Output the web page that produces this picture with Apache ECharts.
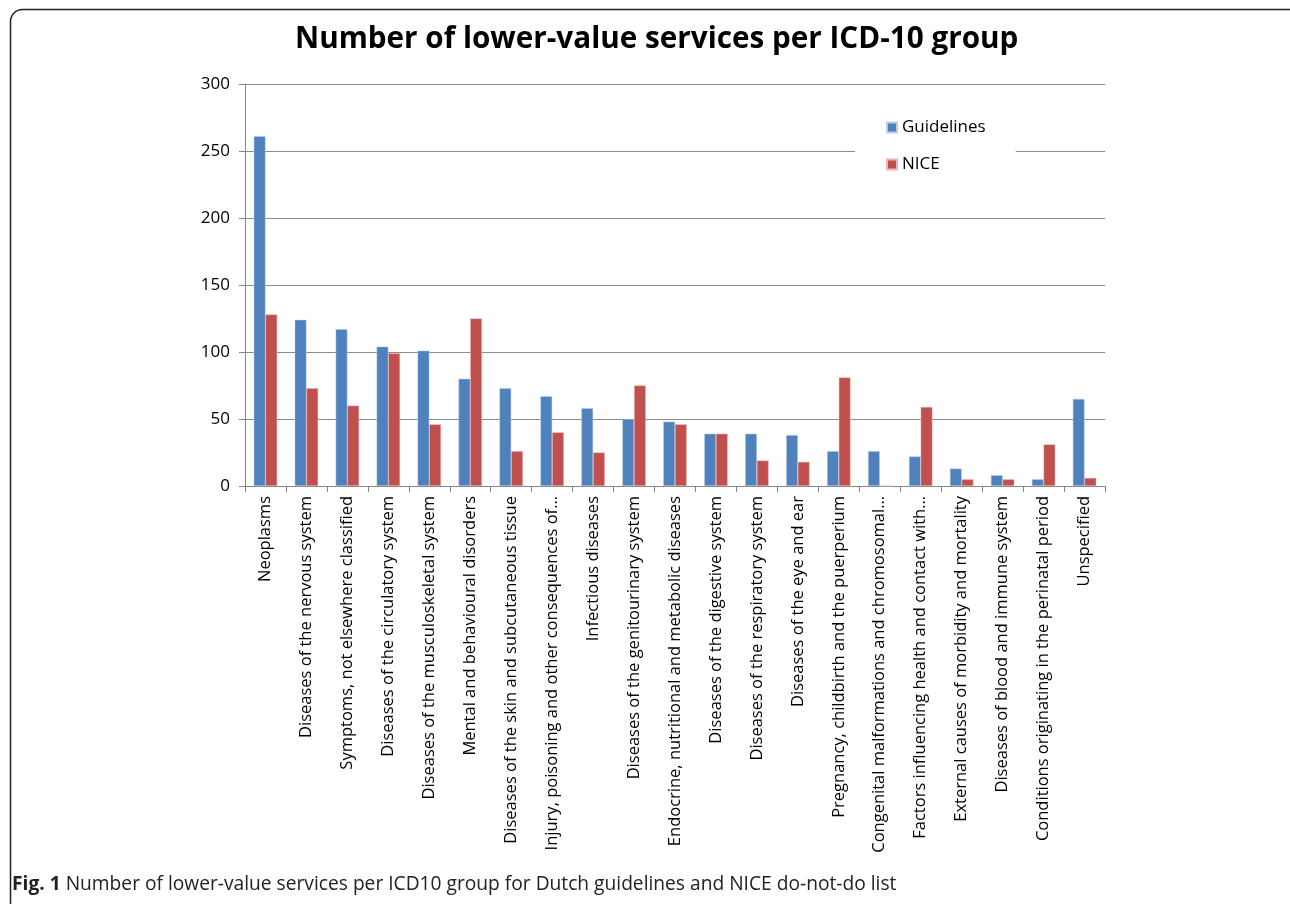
<!DOCTYPE html>
<html>
<head>
<meta charset="utf-8">
<script src="https://cdn.jsdelivr.net/npm/echarts@6/dist/echarts.min.js"></script>
<style>
html,body{margin:0;padding:0;background:#fff;}
#chart{width:1290px;height:904px;}
</style>
</head>
<body>
<div id="chart"></div>
<script>
const categories = [
  "Neoplasms",
  "Diseases of the nervous system",
  "Symptoms, not elsewhere classified",
  "Diseases of the circulatory system",
  "Diseases of the musculoskeletal system",
  "Mental and behavioural disorders",
  "Diseases of the skin and subcutaneous tissue",
  "Injury, poisoning and other consequences of\u2026",
  "Infectious diseases",
  "Diseases of the genitourinary system",
  "Endocrine, nutritional and metabolic diseases",
  "Diseases of the digestive system",
  "Diseases of the respiratory system",
  "Diseases of the eye and ear",
  "Pregnancy, childbirth and the puerperium",
  "Congenital malformations and chromosomal\u2026",
  "Factors influencing health and contact with\u2026",
  "External causes of morbidity and mortality",
  "Diseases of blood and immune system",
  "Conditions originating in the perinatal period",
  "Unspecified"
];
const guidelines = [261,124,117,104,101,80,73,67,58,50,48,39,39,38,26,26,22,13,8,5,65];
const nice = [128,73,60,99,46,125,26,40,25,75,46,39,19,18,81,0,59,5,5,31,6];
const yTicks = [0,50,100,150,200,250,300];

const chart = echarts.init(document.getElementById('chart'));
chart.setOption({
  animation:false,
  backgroundColor:'#fff',
  title:{
    text:'Number of lower-value services per ICD-10 group',
    left:290, top:20,
    textStyle:{fontFamily:'Open Sans', fontWeight:'bold', fontSize:29.7, color:'#000'}
  },
  legend:{
    orient:'vertical', left:855, top:115,
    itemWidth:10, itemHeight:10, itemGap:20,
    backgroundColor:'#fff', padding:[4,30,4,31],
    textStyle:{fontFamily:'Open Sans', fontSize:17, color:'#000'},
    icon:'rect',
    data:['Guidelines','NICE']
  },
  grid:{left:245, top:84, width:860, height:402, containLabel:false},
  xAxis:{
    type:'category', data:categories,
    axisLine:{lineStyle:{color:'#868686', width:1}},
    axisTick:{show:true, length:6, lineStyle:{color:'#868686'}},
    axisLabel:{rotate:90, interval:0, margin:10, fontFamily:'Open Sans', fontSize:16.5, color:'#000'}
  },
  yAxis:{
    type:'value', min:0, max:300, interval:50,
    axisLine:{show:true, lineStyle:{color:'#868686'}},
    axisTick:{show:true, length:6, lineStyle:{color:'#868686'}},
    splitLine:{lineStyle:{color:'#8c8c8c', width:1}},
    axisLabel:{margin:15, fontFamily:'Open Sans', fontSize:17, color:'#000'}
  },
  series:[
    {name:'Guidelines', type:'bar', data:guidelines, barWidth:11.7, barGap:'0%',
     itemStyle:{color:'#4f81bd', borderColor:'#b9cde5', borderWidth:0.5}},
    {name:'NICE', type:'bar', data:nice, barWidth:11.7, barGap:'0%',
     itemStyle:{color:'#c0504d', borderColor:'#e6b9b8', borderWidth:0.5}}
  ],
  graphic:[
    {type:'rect', left:8, top:7, shape:{width:1300, height:910, r:12}, silent:true, z:-10,
     style:{fill:'none', stroke:'#222', lineWidth:1.5}},
    {type:'text', left:12, top:875, silent:true,
     style:{
       text:'{b|Fig. 1} Number of lower-value services per ICD10 group for Dutch guidelines and NICE do-not-do list',
       font:'19.2px "Open Sans"', fill:'#222',
       rich:{b:{fontWeight:'bold', fontFamily:'Open Sans', fontSize:19.2, fill:'#222'}}
     }}
  ]
});
</script>
</body>
</html>
